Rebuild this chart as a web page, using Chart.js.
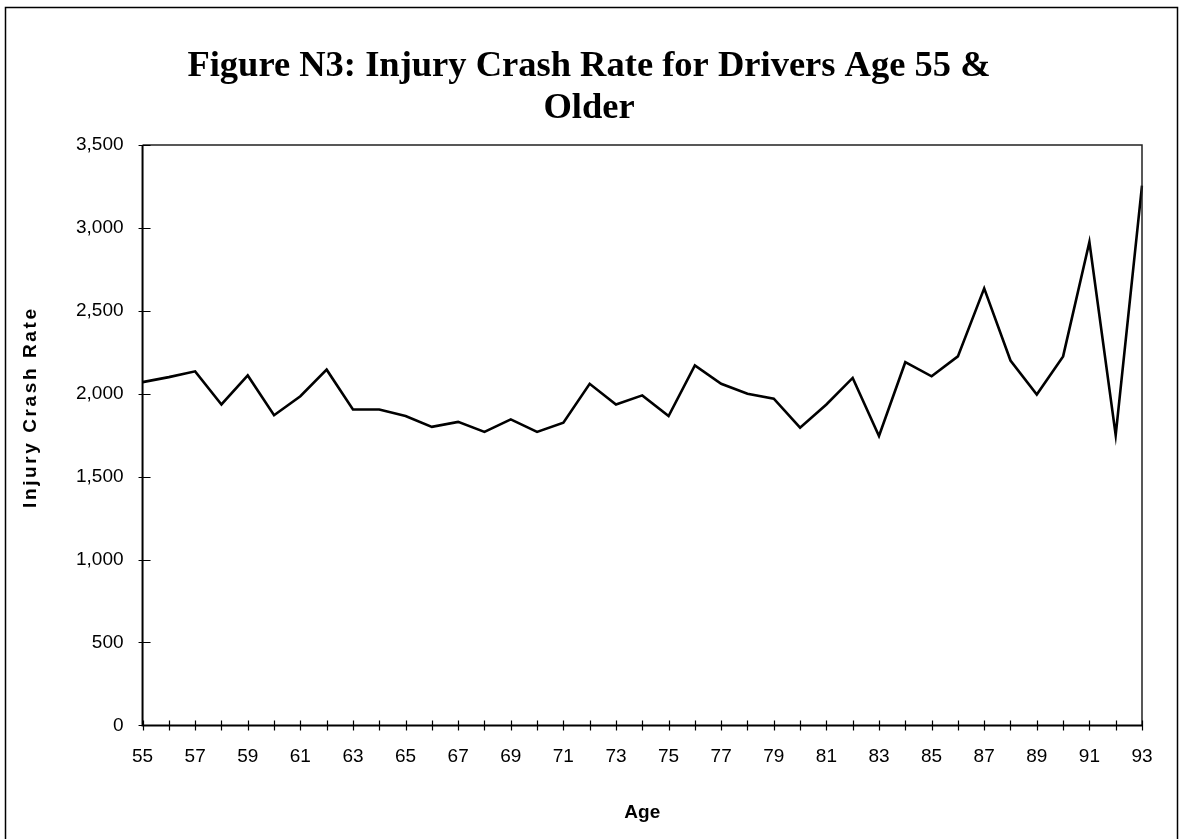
<!DOCTYPE html>
<html>
<head>
<meta charset="utf-8">
<title>Injury Crash Rate</title>
<script src="https://cdn.jsdelivr.net/npm/chart.js@4.4.1/dist/chart.umd.min.js"></script>
<style>
  html, body { margin: 0; padding: 0; background: #fff; }
  #wrap { width: 1182px; height: 839px; position: relative; }
</style>
</head>
<body>
<div id="wrap"><canvas id="crashChart"></canvas></div>
<script>
// Driver age (x axis) and injury crash rate per age
const ages = [55, 56, 57, 58, 59, 60, 61, 62, 63, 64, 65, 66, 67, 68, 69, 70, 71, 72, 73, 74,
              75, 76, 77, 78, 79, 80, 81, 82, 83, 84, 85, 86, 87, 88, 89, 90, 91, 92, 93];
const crashRates = [2070, 2100, 2135, 1935, 2110, 1870, 1985, 2145, 1905, 1905,
                    1865, 1800, 1830, 1770, 1845, 1770, 1825, 2060, 1935, 1990,
                    1865, 2170, 2060, 2000, 1970, 1795, 1935, 2095, 1745, 2190,
                    2105, 2225, 2635, 2200, 1995, 2225, 2915, 1750, 3255];
const yTickValues = [0, 500, 1000, 1500, 2000, 2500, 3000, 3500];
const yAxisTitle = 'Injury Crash Rate';

const sansFamily = "'Liberation Sans', Arial, sans-serif";
const labelFont = { family: sansFamily, size: 19 };

// outer frame, plot box, cross ticks and the rotated y axis title
const framePlugin = {
  id: 'framePlugin',
  afterDraw(chart) {
    const { ctx, chartArea: a, scales } = chart;
    ctx.save();
    ctx.strokeStyle = '#000';

    // page frame (open at the bottom edge)
    ctx.lineWidth = 1.5;
    ctx.beginPath();
    ctx.moveTo(5.5, 845);
    ctx.lineTo(5.5, 7.5);
    ctx.lineTo(1177.5, 7.5);
    ctx.lineTo(1177.5, 845);
    ctx.stroke();

    ctx.strokeStyle = '#222';
    ctx.beginPath();
    ctx.moveTo(a.left, a.top);
    ctx.lineTo(a.right, a.top);
    ctx.lineTo(a.right, a.bottom);
    ctx.stroke();

    ctx.strokeStyle = '#000';
    ctx.lineWidth = 2;
    ctx.beginPath();
    ctx.moveTo(a.left, a.top);
    ctx.lineTo(a.left, a.bottom);
    ctx.lineTo(a.right, a.bottom);
    ctx.stroke();

    ctx.lineWidth = 1.2;
    ctx.beginPath();
    scales.x.ticks.forEach((t, i) => {
      const px = Math.round(scales.x.getPixelForTick(i)) + 0.5;
      ctx.moveTo(px, a.bottom - 5);
      ctx.lineTo(px, a.bottom + 5);
    });
    scales.y.ticks.forEach((t, i) => {
      const py = Math.round(scales.y.getPixelForTick(i)) + 0.5;
      ctx.moveTo(a.left - 4, py);
      ctx.lineTo(a.left + 8, py);
    });
    ctx.stroke();

    // y axis title, a little above the middle of the plot
    const midY = (a.top + a.bottom) / 2 - 28;
    ctx.translate(31, midY);
    ctx.rotate(-Math.PI / 2);
    ctx.fillStyle = '#000';
    ctx.font = 'bold 19px ' + sansFamily;
    if ('letterSpacing' in ctx) ctx.letterSpacing = '2.6px';
    ctx.textAlign = 'center';
    ctx.textBaseline = 'middle';
    ctx.fillText(yAxisTitle, 0, 0);
    ctx.restore();
  }
};

const ctx = document.getElementById('crashChart').getContext('2d');
const crashChart = new Chart(ctx, {
  type: 'line',
  data: {
    labels: ages,
    datasets: [{
      label: 'Injury Crash Rate',
      data: crashRates,
      borderColor: '#000',
      borderWidth: 2.6,
      pointRadius: 0,
      tension: 0,
      fill: false
    }]
  },
  options: {
    responsive: true,
    maintainAspectRatio: false,
    animation: false,
    layout: { padding: { top: 0, right: 40, bottom: 15, left: 36 } },
    plugins: {
      legend: { display: false },
      tooltip: { enabled: false },
      title: {
        display: true,
        text: ['Figure N3: Injury Crash Rate for Drivers Age 55 &', 'Older'],
        color: '#000',
        font: { family: "'Liberation Serif', 'Times New Roman', serif", size: 36.5, weight: 'bold', lineHeight: 1.15 },
        padding: { top: 46, bottom: 15 }
      }
    },
    scales: {
      x: {
        type: 'category',
        offset: false,
        grid: { display: false, drawTicks: false },
        border: { display: false },
        ticks: {
          autoSkip: false,
          maxRotation: 0,
          padding: 20,
          color: '#000',
          font: labelFont,
          callback: function(value, index) {
            return index % 2 === 0 ? ages[index] : '';
          }
        },
        title: {
          display: true,
          text: 'Age',
          color: '#000',
          font: { family: sansFamily, size: 19, weight: 'bold' },
          padding: { top: 13, bottom: 0 }
        }
      },
      y: {
        min: 0,
        max: 3500,
        grid: { display: false, drawTicks: false },
        border: { display: false },
        afterBuildTicks: function(axis) {
          axis.ticks = yTickValues.map(v => ({ value: v }));
        },
        // room for the hand-drawn axis title
        afterFit: function(axis) {
          axis.width += 21;
        },
        ticks: {
          padding: 19,
          color: '#000',
          font: labelFont,
          callback: function(value) {
            return value.toLocaleString('en-US');
          }
        }
      }
    }
  },
  plugins: [framePlugin]
});
</script>
</body>
</html>
